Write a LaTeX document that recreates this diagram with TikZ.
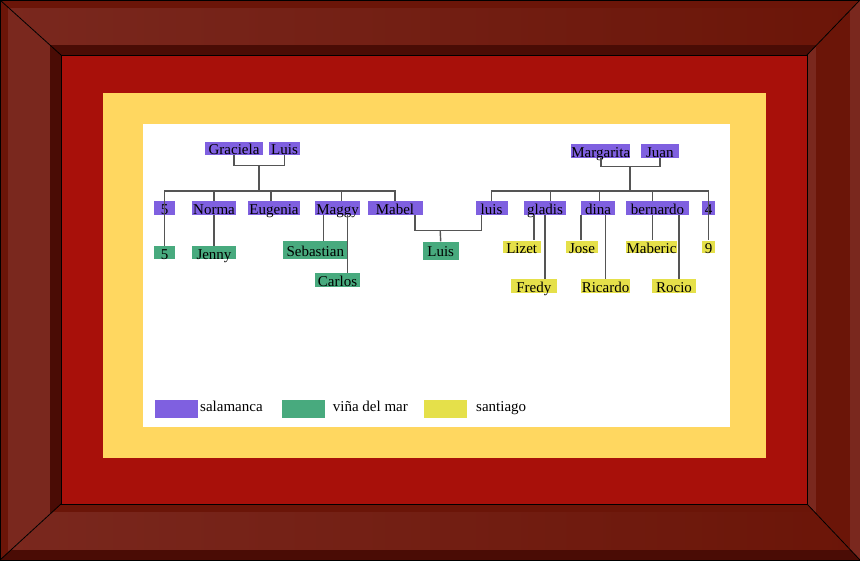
\documentclass[tikz,border=0pt]{standalone}
\usepackage{fontspec}
\setmainfont{Liberation Serif}

\definecolor{salcol}{HTML}{7F60E0}
\definecolor{vincol}{HTML}{48AA7E}
\definecolor{stgcol}{HTML}{E5E04A}
\definecolor{ramacol}{HTML}{555555}
\definecolor{rojo}{HTML}{A8100A}
\definecolor{amarillo}{HTML}{FFD760}
\definecolor{marcoclaro}{HTML}{7A281E}
\definecolor{marcomedio}{HTML}{6B1508}
\definecolor{marcosombra}{HTML}{4A0C05}

\tikzset{
  persona/.style={inner sep=0pt, text height=12.8pt, text depth=0pt, minimum height=13.5pt, font=\fontsize{15pt}{15pt}\selectfont},
  sal/.style={persona, fill=salcol},
  vin/.style={persona, fill=vincol},
  stg/.style={persona, fill=stgcol},
  rama/.style={draw=ramacol, line width=1.4pt},
  leyenda/.style={anchor=base west, inner sep=0pt, font=\fontsize{15pt}{15pt}\selectfont}
}

\begin{document}
\begin{tikzpicture}[x=1pt, y=-1pt]
\useasboundingbox (0,0) rectangle (860,560);

\begin{scope}
\clip (0,0) -- (860,0) -- (807,55) -- (61,55) -- cycle;
\shade[left color=marcoclaro, right color=marcomedio] (0,0) rectangle (860,55);
\fill[marcomedio] (0,0) rectangle (860,8);
\fill[marcosombra] (0,45) rectangle (860,55);
\end{scope}
\begin{scope}
\clip (0,0) -- (61,55) -- (61,504) -- (0,560) -- cycle;
\fill[marcoclaro] (0,0) rectangle (61,560);
\fill[marcomedio] (0,0) rectangle (8,560);
\fill[marcosombra] (50,0) rectangle (61,560);
\end{scope}
\begin{scope}
\clip (860,0) -- (807,55) -- (807,504) -- (860,560) -- cycle;
\fill[marcomedio] (807,0) rectangle (860,560);
\fill[marcoclaro] (807,0) rectangle (816,560);
\fill[marcoclaro] (850,0) rectangle (860,560);
\end{scope}
\begin{scope}
\clip (0,560) -- (61,504) -- (807,504) -- (860,560) -- cycle;
\shade[left color=marcoclaro, right color=marcomedio] (0,504) rectangle (860,560);
\fill[marcomedio] (0,504) rectangle (860,512);
\fill[marcosombra] (0,550) rectangle (860,560);
\end{scope}
\draw[black, line width=0.8pt] (0,0) -- (61,55) (860,0) -- (807,55) (0,560) -- (61,504) (860,560) -- (807,504);
\draw[black, line width=0.8pt] (0,0) rectangle (860,560);
\fill[rojo, draw=black, line width=0.8pt] (61,55) rectangle (807,504);
\fill[amarillo] (103,93) rectangle (766,458);
\fill[white] (143,124) rectangle (730,427);

\node[sal, minimum width=58pt] (graciela) at (234,148.5) {Graciela};
\node[sal, minimum width=31pt] (luisa) at (284.5,148.5) {Luis};
\node[sal, minimum width=21pt] (cinco) at (164.5,208) {5};
\node[sal, minimum width=44pt] (norma) at (214,208) {Norma};
\node[sal, minimum width=52pt] (eugenia) at (274,208) {Eugenia};
\node[sal, minimum width=45pt] (maggy) at (337.5,208) {Maggy};
\node[sal, minimum width=55pt] (mabel) at (395,208) {Mabel};
\node[vin, minimum width=21pt] (cincob) at (164.5,252.7) {5};
\node[vin, minimum width=44pt] (jenny) at (214,252.7) {Jenny};
\node[vin, minimum width=64pt, minimum height=18pt] (sebastian) at (315.3,250.2) {Sebastian};
\node[vin, minimum width=45pt] (carlos) at (337.5,280) {Carlos};
\node[vin, minimum width=36pt, minimum height=18pt] (luisb) at (440.7,250.5) {Luis};

\node[sal, minimum width=58.3pt, minimum height=14pt] (margarita) at (600.8,151) {Margarita};
\node[sal, minimum width=37.7pt, minimum height=14pt] (juan) at (659.8,151) {Juan};
\node[sal, minimum width=32pt] (luisc) at (491.5,208) {luis};
\node[sal, minimum width=42pt] (gladis) at (545,208) {gladis};
\node[sal, minimum width=34.3pt] (dina) at (598,208) {dina};
\node[sal, minimum width=63.6pt] (bernardo) at (657.5,208) {bernardo};
\node[sal, minimum width=12.7pt] (cuatro) at (708.7,208) {4};
\node[stg, minimum width=38pt, minimum height=12pt] (lizet) at (521.7,247) {Lizet};
\node[stg, minimum width=32.3pt, minimum height=12pt] (jose) at (582,247) {Jose};
\node[stg, minimum width=51.6pt, minimum height=12pt] (maberic) at (651.5,247) {Maberic};
\node[stg, minimum width=12.7pt, minimum height=12pt] (nueve) at (708.7,247) {9};
\node[stg, minimum width=45.7pt] (fredy) at (533.8,286) {Fredy};
\node[stg, minimum width=49pt] (ricardo) at (605.5,286) {Ricardo};
\node[stg, minimum width=43.4pt] (rocio) at (674,286) {Rocio};

\draw[rama] (graciela.south) -- ++(0,10) -| (luisa.south);
\coordinate (pareja1) at (259,165);
\coordinate (hijos1) at (259,191);
\draw[rama] (pareja1) -- (hijos1);
\draw[rama] (cinco.north) -- ++(0,-10) -| (mabel.north);
\draw[rama] (cinco.north) -- (cincob.north);
\draw[rama] (norma.north) -- ++(0,-10);
\draw[rama] ([xshift=-3pt]eugenia.north) -- ++(0,-10);
\draw[rama] ([xshift=4.2pt]maggy.north) -- ++(0,-10);
\draw[rama] (norma) -- (jenny);
\draw[rama] ([xshift=-13.8pt]maggy.south) -- ([xshift=8.4pt]sebastian.north);
\draw[rama] ([xshift=10.2pt]maggy.south) -- ([xshift=10.2pt]carlos.north);
\draw[rama] ([xshift=20pt]mabel.south) -- ++(0,15.6) -| ([xshift=-9.8pt]luisc.south);
\coordinate (pareja3) at (440.2,230.45);
\draw[rama] (pareja3) -- (luisb.north);

\draw[rama] (margarita.south) -- ++(0,8) -| (juan.south);
\coordinate (pareja2) at (630,166);
\coordinate (hijos2) at (630,191);
\draw[rama] (pareja2) -- (hijos2);
\draw[rama] (luisc.north) -- ++(0,-10) -| (cuatro.north);
\draw[rama] (cuatro.north) -- (nueve.north);
\draw[rama] ([xshift=5.7pt]gladis.north) -- ++(0,-10);
\draw[rama] ([xshift=1.3pt]dina.north) -- ++(0,-10);
\draw[rama] ([xshift=-5.2pt]bernardo.north) -- ++(0,-10);
\draw[rama] ([xshift=-11pt]gladis.south) -- ([xshift=12.3pt]lizet.north);
\draw[rama] (gladis.south) -- ([xshift=11.2pt]fredy.north);
\draw[rama] ([xshift=-17pt]dina.south) -- ([xshift=-1pt]jose.north);
\draw[rama] ([xshift=7.7pt]dina.south) -- ([xshift=0.2pt]ricardo.north);
\draw[rama] ([xshift=-5.2pt]bernardo.south) -- ([xshift=0.8pt]maberic.north);
\draw[rama] ([xshift=21.5pt]bernardo.south) -- ([xshift=5pt]rocio.north);

\node[sal, minimum width=42.7pt, minimum height=17.7pt] (cajasal) at (176.3,408.8) {};
\node[vin, minimum width=42.7pt, minimum height=17.7pt] (cajavin) at (303.7,408.8) {};
\node[stg, minimum width=42.7pt, minimum height=17.7pt] (cajastg) at (445.3,408.8) {};
\node[leyenda] (txtsal) at (200,411.7) {salamanca};
\node[leyenda] (txtvin) at (332.7,411.7) {viña del mar};
\node[leyenda] (txtstg) at (476,411.7) {santiago};

\end{tikzpicture}
\end{document}
